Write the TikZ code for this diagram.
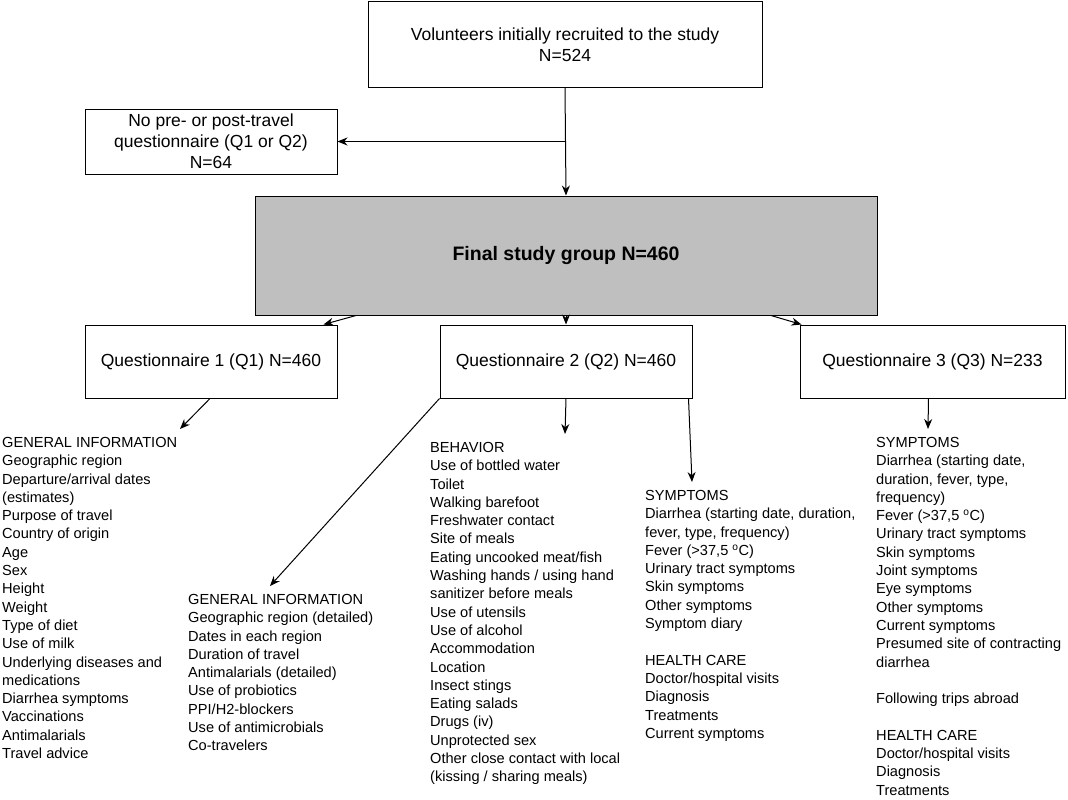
\documentclass[tikz,border=0pt]{standalone}
\usepackage{fontspec}
\setmainfont{Liberation Sans}
\usetikzlibrary{arrows.meta,positioning}
\begin{document}
\begin{tikzpicture}[
    x=1pt, y=-1pt,
    box/.style={draw=black, line width=1pt, inner sep=0pt, align=center, font=\fontsize{17.5}{21}\selectfont},
    list/.style={anchor=north west, inner sep=0pt, align=left, font=\fontsize{14.6}{18.3}\selectfont},
    arrow/.style={-{Stealth[length=10pt,width=8pt]}, line width=1pt}
]
    \useasboundingbox (0,0) rectangle (1068,800);
    % boxes
    \node[box, minimum width=394pt, minimum height=85pt] (recruit) at (565,44.5) {Volunteers initially recruited to the study\\N=524};
    \node[box, minimum width=252pt, minimum height=65pt] (excluded) at (211,141.5) {No pre- or post-travel\\questionnaire (Q1 or Q2)\\N=64};
    \node[box, fill=black!25, minimum width=622pt, minimum height=119pt, font=\fontsize{19.5}{23}\selectfont\bfseries] (final) at (566,255.5) {Final study group N=460};
    \node[box, minimum width=252pt, minimum height=73pt] (qone) at (211,361.5) {Questionnaire 1 (Q1) N=460};
    \node[box, minimum width=252pt, minimum height=73pt] (qtwo) at (566,361.5) {Questionnaire 2 (Q2) N=460};
    \node[box, minimum width=265pt, minimum height=73pt] (qthree) at (932.5,361.5) {Questionnaire 3 (Q3) N=233};

    % lists
    \node[list] (qonegen) at (2,437) {GENERAL INFORMATION\\Geographic region\\Departure/arrival dates\\(estimates)\\Purpose of travel\\Country of origin\\Age\\Sex\\Height\\Weight\\Type of diet\\Use of milk\\Underlying diseases and\\medications\\Diarrhea symptoms\\Vaccinations\\Antimalarials\\Travel advice};
    \node[list] (qtwogen) at (188,594) {GENERAL INFORMATION\\Geographic region (detailed)\\Dates in each region\\Duration of travel\\Antimalarials (detailed)\\Use of probiotics\\PPI/H2-blockers\\Use of antimicrobials\\Co-travelers};
    \node[list] (qtwobeh) at (430,442) {BEHAVIOR\\Use of bottled water\\Toilet\\Walking barefoot\\Freshwater contact\\Site of meals\\Eating uncooked meat/fish\\Washing hands / using hand\\sanitizer before meals\\Use of utensils\\Use of alcohol\\Accommodation\\Location\\Insect stings\\Eating salads\\Drugs (iv)\\Unprotected sex\\Other close contact with local\\(kissing / sharing meals)};
    \node[list] (qtwosym) at (645,490) {SYMPTOMS\\Diarrhea (starting date, duration,\\fever, type, frequency)\\Fever (>37,5 \textsuperscript{o}C)\\Urinary tract symptoms\\Skin symptoms\\Other symptoms\\Symptom diary\\[18.3pt]HEALTH CARE\\Doctor/hospital visits\\Diagnosis\\Treatments\\Current symptoms};
    \node[list] (qthreesym) at (876,437) {SYMPTOMS\\Diarrhea (starting date,\\duration, fever, type,\\frequency)\\Fever (>37,5 \textsuperscript{o}C)\\Urinary tract symptoms\\Skin symptoms\\Joint symptoms\\Eye symptoms\\Other symptoms\\Current symptoms\\Presumed site of contracting\\diarrhea\\[18.3pt]Following trips abroad\\[18.3pt]HEALTH CARE\\Doctor/hospital visits\\Diagnosis\\Treatments};

    % connectors
    \coordinate (split) at (recruit.south |- excluded.east);
    \draw[arrow] (recruit.south) -- (final.north);
    \draw[arrow] (split) -- (excluded.east);
    \draw[arrow] ([xshift=-210pt]final.south) -- ([xshift=-14pt]qone.north east);
    \draw[arrow] (final.south) -- (qtwo.north);
    \draw[arrow] ([xshift=205pt]final.south) -- ([xshift=2pt]qthree.north west);
    \draw[arrow] ([xshift=-1pt]qone.south) -- ([xshift=178pt,yshift=8pt]qonegen.north west);
    \draw[arrow] (qtwo.south west) -- ([xshift=82pt,yshift=8pt]qtwogen.north west);
    \draw[arrow] (qtwo.south) -- ([xshift=135pt,yshift=8pt]qtwobeh.north west);
    \draw[arrow] ([xshift=-4pt]qtwo.south east) -- ([xshift=47pt,yshift=8pt]qtwosym.north west);
    \draw[arrow] ([xshift=-4pt]qthree.south) -- ([xshift=52pt,yshift=8pt]qthreesym.north west);
\end{tikzpicture}
\end{document}
